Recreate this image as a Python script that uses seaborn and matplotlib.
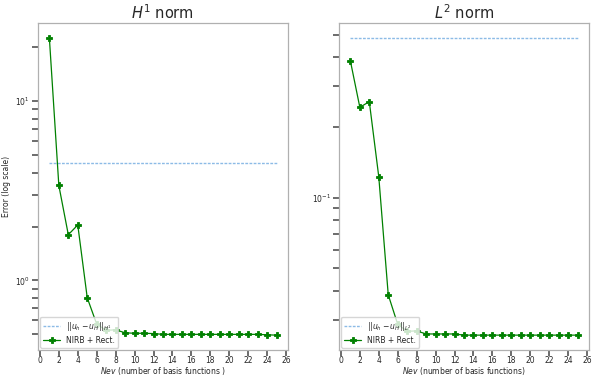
import numpy as np
import pandas as pd
import seaborn as sns
import matplotlib.pyplot as plt

sns.set_style("white")

nev = list(range(1, 26))

# H1 norm errors (NIRB + rectification)
h1_nirb = [22.6, 3.39, 1.80, 2.04, 0.80, 0.57, 0.527, 0.53, 0.51, 0.507, 0.507, 0.505,
           0.50, 0.50, 0.50, 0.50, 0.50, 0.50, 0.50, 0.50, 0.50, 0.50, 0.50, 0.497, 0.495]
h1_fine_coarse = 4.54

# L2 norm errors
l2_nirb = [0.386, 0.244, 0.258, 0.123, 0.0384, 0.0287, 0.0268, 0.0269, 0.0261, 0.0261,
           0.0261, 0.0261, 0.0258, 0.0258, 0.0258, 0.0258, 0.0258, 0.0258, 0.0258,
           0.0258, 0.0258, 0.0258, 0.0258, 0.0258, 0.0258]
l2_fine_coarse = 0.484

green = "#008000"
blue = "#8cbbe6"

fig = plt.figure(figsize=(5.92, 3.78), dpi=100)
ax1 = fig.add_axes([38 / 592, 1 - 350 / 378, 250 / 592, 327 / 378])
ax2 = fig.add_axes([339 / 592, 1 - 350 / 378, 250 / 592, 327 / 378])


def panel(ax, vals, ref, title, reflabel, xlabel):
    df = pd.DataFrame({"nev": nev, "err": vals, "ref": [ref] * len(nev)})
    sns.lineplot(data=df, x="nev", y="ref", ax=ax, color=blue, lw=1,
                 linestyle="--", dashes=False, label=reflabel)
    ax.lines[-1].set_dashes((2, 1))
    sns.lineplot(data=df, x="nev", y="err", ax=ax, color=green, lw=0.9,
                 marker="P", markersize=4.5, markeredgewidth=0.6,
                 markeredgecolor=green, label="NIRB + Rect.")
    ax.set_yscale("log")
    ax.set_xticks(np.arange(0, 27, 2))
    ax.set_title(title, fontsize=10.5, pad=3)
    ax.set_xlabel(xlabel, fontsize=5.5, labelpad=0)
    ax.set_ylabel("")
    ax.tick_params(axis="both", which="both", labelsize=5.5, color="#444444",
                   width=1.1, length=4.5, pad=1.5, left=True, bottom=True)
    ax.tick_params(axis="x", pad=0.5, length=4)
    for s in ax.spines.values():
        s.set_color("#b0b0b0")
        s.set_linewidth(0.9)
    ax.legend(loc="lower left", fontsize=5.5, framealpha=0.8, borderpad=0.4,
              handlelength=2.2, labelspacing=0.4, borderaxespad=0.3)


panel(ax1, h1_nirb, h1_fine_coarse, "$H^1$ norm", r"$||u_h-u_H||_{H^1}$",
      "$Nev$ (number of basis functions )")
panel(ax2, l2_nirb, l2_fine_coarse, "$L^2$ norm", r"$||u_h-u_H||_{L^2}$",
      "$Nev$ (number of basis functions)")
ax1.set_ylabel("Error (log scale)", fontsize=5.5, labelpad=3)

fig.savefig("out.png", dpi=100)
